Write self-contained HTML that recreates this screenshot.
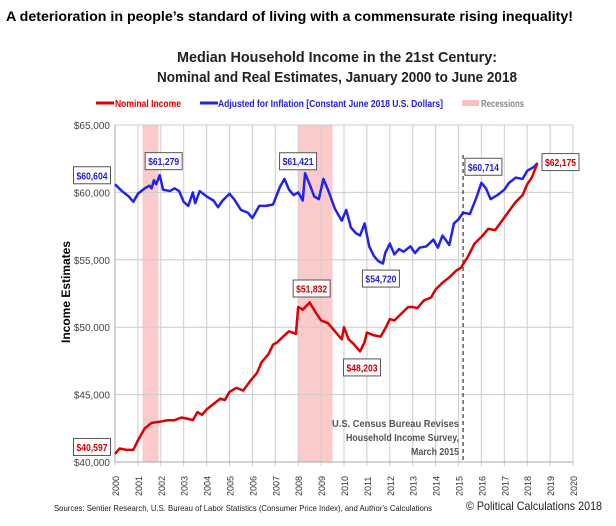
<!DOCTYPE html>
<html><head><meta charset="utf-8">
<style>
body{margin:0;background:#fff;width:616px;height:521px;overflow:hidden;font-family:"Liberation Sans",sans-serif;}
svg text{font-family:"Liberation Sans",sans-serif;}
</style></head>
<body>
<svg id="chart" width="616" height="521">
<text x="6" y="21" font-size="14" font-weight="bold" fill="#000" textLength="567" lengthAdjust="spacingAndGlyphs">A deterioration in people’s standard of living with a commensurate rising inequality!</text>
<text x="337" y="62" font-size="15" font-weight="bold" text-anchor="middle" fill="#222" textLength="320" lengthAdjust="spacingAndGlyphs">Median Household Income in the 21st Century:</text>
<text x="337" y="82" font-size="15" font-weight="bold" text-anchor="middle" fill="#222" textLength="360" lengthAdjust="spacingAndGlyphs">Nominal and Real Estimates, January 2000 to June 2018</text>
<g>
<line x1="96" y1="103" x2="114" y2="103" stroke="#d00" stroke-width="3"/>
<text x="115" y="107" font-size="10" font-weight="bold" fill="#d00" textLength="66" lengthAdjust="spacingAndGlyphs">Nominal Income</text>
<line x1="200" y1="103" x2="218" y2="103" stroke="#22e" stroke-width="3"/>
<text x="218" y="107" font-size="10" font-weight="bold" fill="#22d" textLength="225" lengthAdjust="spacingAndGlyphs">Adjusted for Inflation [Constant June 2018 U.S. Dollars]</text>
<line x1="462" y1="103" x2="479" y2="103" stroke="#f8c0c0" stroke-width="6"/>
<text x="481" y="107" font-size="10" font-weight="bold" fill="#888" textLength="43" lengthAdjust="spacingAndGlyphs">Recessions</text>
</g>
<g id="plot"></g>
<text transform="translate(70,292) rotate(-90)" font-size="12" font-weight="bold" text-anchor="middle" fill="#000">Income Estimates</text>
<text font-size="10" font-weight="bold" fill="#555" text-anchor="end"><tspan x="459" y="427" textLength="127" lengthAdjust="spacingAndGlyphs">U.S. Census Bureau Revises</tspan><tspan x="459" y="441" textLength="113" lengthAdjust="spacingAndGlyphs">Household Income Survey,</tspan><tspan x="459" y="455" textLength="48" lengthAdjust="spacingAndGlyphs">March 2015</tspan></text>
<text x="54" y="511" font-size="8.5" fill="#222" textLength="378" lengthAdjust="spacingAndGlyphs">Sources: Sentier Research, U.S. Bureau of Labor Statistics (Consumer  Price Index), and Author's Calculations</text>
<text x="602" y="510" font-size="12" fill="#222" text-anchor="end" textLength="136" lengthAdjust="spacingAndGlyphs">© Political Calculations 2018</text>
</svg>
<script>
const yearTicks=[2000,2001,2002,2003,2004,2005,2006,2007,2008,2009,2010,2011,2012,2013,2014,2015,2016,2017,2018,2019,2020];
const valueTicks=[40000,45000,50000,55000,60000,65000];
const recessions=[[2001.2,2001.9],[2008.0,2009.5]];
const revisionDate=2015.2;
const realDates=[2000.0,2000.3,2000.6,2000.8,2001.0,2001.3,2001.5,2001.6,2001.7,2001.8,2001.95,2002.1,2002.4,2002.6,2002.8,2003.0,2003.2,2003.4,2003.5,2003.7,2004.0,2004.3,2004.5,2004.7,2005.0,2005.2,2005.5,2005.8,2006.0,2006.3,2006.6,2006.9,2007.2,2007.4,2007.6,2007.8,2008.0,2008.2,2008.3,2008.5,2008.7,2008.9,2009.1,2009.3,2009.6,2009.9,2010.1,2010.3,2010.5,2010.7,2010.9,2011.1,2011.3,2011.5,2011.7,2011.8,2012.0,2012.2,2012.4,2012.6,2012.9,2013.1,2013.3,2013.6,2013.9,2014.1,2014.3,2014.6,2014.8,2015.0,2015.2,2015.5,2015.8,2016.0,2016.2,2016.4,2016.7,2017.0,2017.2,2017.5,2017.8,2018.0,2018.3,2018.45];
const realValues=[60604,60100,59700,59300,59900,60300,60500,60300,60900,60600,61279,60200,60100,60300,60100,59300,59000,60000,59200,60100,59700,59400,58900,59400,59900,59500,58700,58500,58100,59000,59000,59100,60400,61000,60200,59800,60000,59400,61421,60600,59700,59500,61000,60200,58800,57900,58700,57400,57000,56800,57700,56000,55300,54900,54720,55500,56200,55400,55800,55600,56000,55500,55900,56000,56500,55900,56800,56100,57700,58000,58500,58400,59700,60714,60300,59500,59800,60200,60700,61100,61000,61600,61900,62175];
const nomDates=[2000.0,2000.2,2000.5,2000.8,2001.0,2001.3,2001.6,2002.0,2002.3,2002.6,2002.9,2003.2,2003.4,2003.6,2003.8,2004.0,2004.3,2004.6,2004.8,2005.0,2005.3,2005.6,2005.9,2006.2,2006.4,2006.7,2006.9,2007.1,2007.4,2007.6,2007.9,2008.0,2008.2,2008.5,2008.8,2009.0,2009.3,2009.6,2009.9,2010.0,2010.2,2010.4,2010.7,2010.9,2011.0,2011.3,2011.6,2011.8,2012.0,2012.2,2012.5,2012.8,2013.0,2013.2,2013.5,2013.8,2014.0,2014.3,2014.6,2014.9,2015.1,2015.4,2015.7,2016.0,2016.3,2016.6,2016.9,2017.2,2017.5,2017.8,2018.0,2018.2,2018.45];
const nomValues=[40597,41000,40900,40900,41600,42500,42900,43000,43100,43100,43300,43200,43100,43700,43500,43900,44300,44700,44600,45200,45500,45300,46000,46600,47400,48000,48700,48900,49400,49700,49500,51500,51300,51832,51000,50500,50300,49700,49100,50000,49100,48800,48203,48900,49600,49400,49300,49900,50600,50500,51000,51500,51500,51400,52000,52200,52800,53300,53700,54200,54400,55200,56200,56700,57300,57200,57900,58600,59300,59800,60600,61100,62175];
const realLabels=[[2000.0,60604,"$60,604"],[2001.95,61279,"$61,279"],[2008.3,61421,"$61,421"],[2011.7,54720,"$54,720"],[2016.0,60714,"$60,714"]];
const nomLabels=[[2000.0,40597,"$40,597"],[2008.5,51832,"$51,832"],[2010.7,48203,"$48,203"],[2018.45,62175,"$62,175"]];
const realLabelOffsets=[[-23,-9],[4,-14],[-7,-12],[-2,15],[2,-16]];
const nomLabelOffsets=[[-23,-7],[2,-14],[2,16],[23,-1]];

const X0=115,X1=573,Y0=462,Y1=125;
const xs=t=>X0+(t-2000)/20*(X1-X0);
const ys=v=>Y0-(v-40000)/25000*(Y0-Y1);
const NS="http://www.w3.org/2000/svg";
const g=document.getElementById('plot');
function mk(tag,attrs,parent){const e=document.createElementNS(NS,tag);for(const k in attrs)e.setAttribute(k,attrs[k]);(parent||g).appendChild(e);return e;}
recessions.forEach(r=>{const e=mk('rect',{x:xs(r[0]),y:Y1,width:xs(r[1])-xs(r[0]),height:Y0-Y1,fill:'#fbcaca'});

});
yearTicks.forEach(t=>{const l=mk('line',{x1:xs(t),x2:xs(t),y1:Y1,y2:Y0+4,stroke:'#ccc','stroke-width':1});


const tx=mk('text',{transform:`translate(${xs(t)+4},${Y0+34}) rotate(-90)`,'font-size':9,fill:'#333'});
tx.textContent=t;

});
valueTicks.forEach(v=>{const l=mk('line',{x1:X0,x2:X1,y1:ys(v),y2:ys(v),stroke:'#ccc','stroke-width':1});


const tx=mk('text',{x:X0-5,y:ys(v)+4,'font-size':10,fill:'#444','text-anchor':'end'});
tx.textContent='$'+v.toLocaleString('en-US');

});
mk('line',{x1:X0,x2:X0,y1:Y1,y2:Y0,stroke:'#aaa'});
mk('line',{x1:X0,x2:X1,y1:Y0,y2:Y0,stroke:'#aaa'});
const dl=mk('line',{x1:xs(revisionDate),x2:xs(revisionDate),y1:Y1+30,y2:Y0,stroke:'#444','stroke-dasharray':'4,3','stroke-width':1.3});


const rl=mk('polyline',{points:realDates.map((d,i)=>xs(d)+','+ys(realValues[i])).join(' '),fill:'none',stroke:'#2222ee','stroke-width':2.5,'stroke-linejoin':'round'});


const nl=mk('polyline',{points:nomDates.map((d,i)=>xs(d)+','+ys(nomValues[i])).join(' '),fill:'none',stroke:'#dd0000','stroke-width':2.5,'stroke-linejoin':'round'});


function label(list,offs,color,name){list.forEach((a,i)=>{const cx=xs(a[0])+offs[i][0],cy=ys(a[1])+offs[i][1];
const w=37,h=17;
const r=mk('rect',{x:cx-w/2,y:cy-h/2,width:w,height:h,fill:'#fff',stroke:'#555','stroke-width':1});


const t=mk('text',{x:cx,y:cy+4,'font-size':10,'font-weight':'bold',fill:color,'text-anchor':'middle',textLength:31,lengthAdjust:'spacingAndGlyphs'});
t.textContent=a[2];

});}
label(realLabels,realLabelOffsets,'#2222cc','real-annotation');
label(nomLabels,nomLabelOffsets,'#cc0000','nominal-annotation');
</script>
</body></html>
